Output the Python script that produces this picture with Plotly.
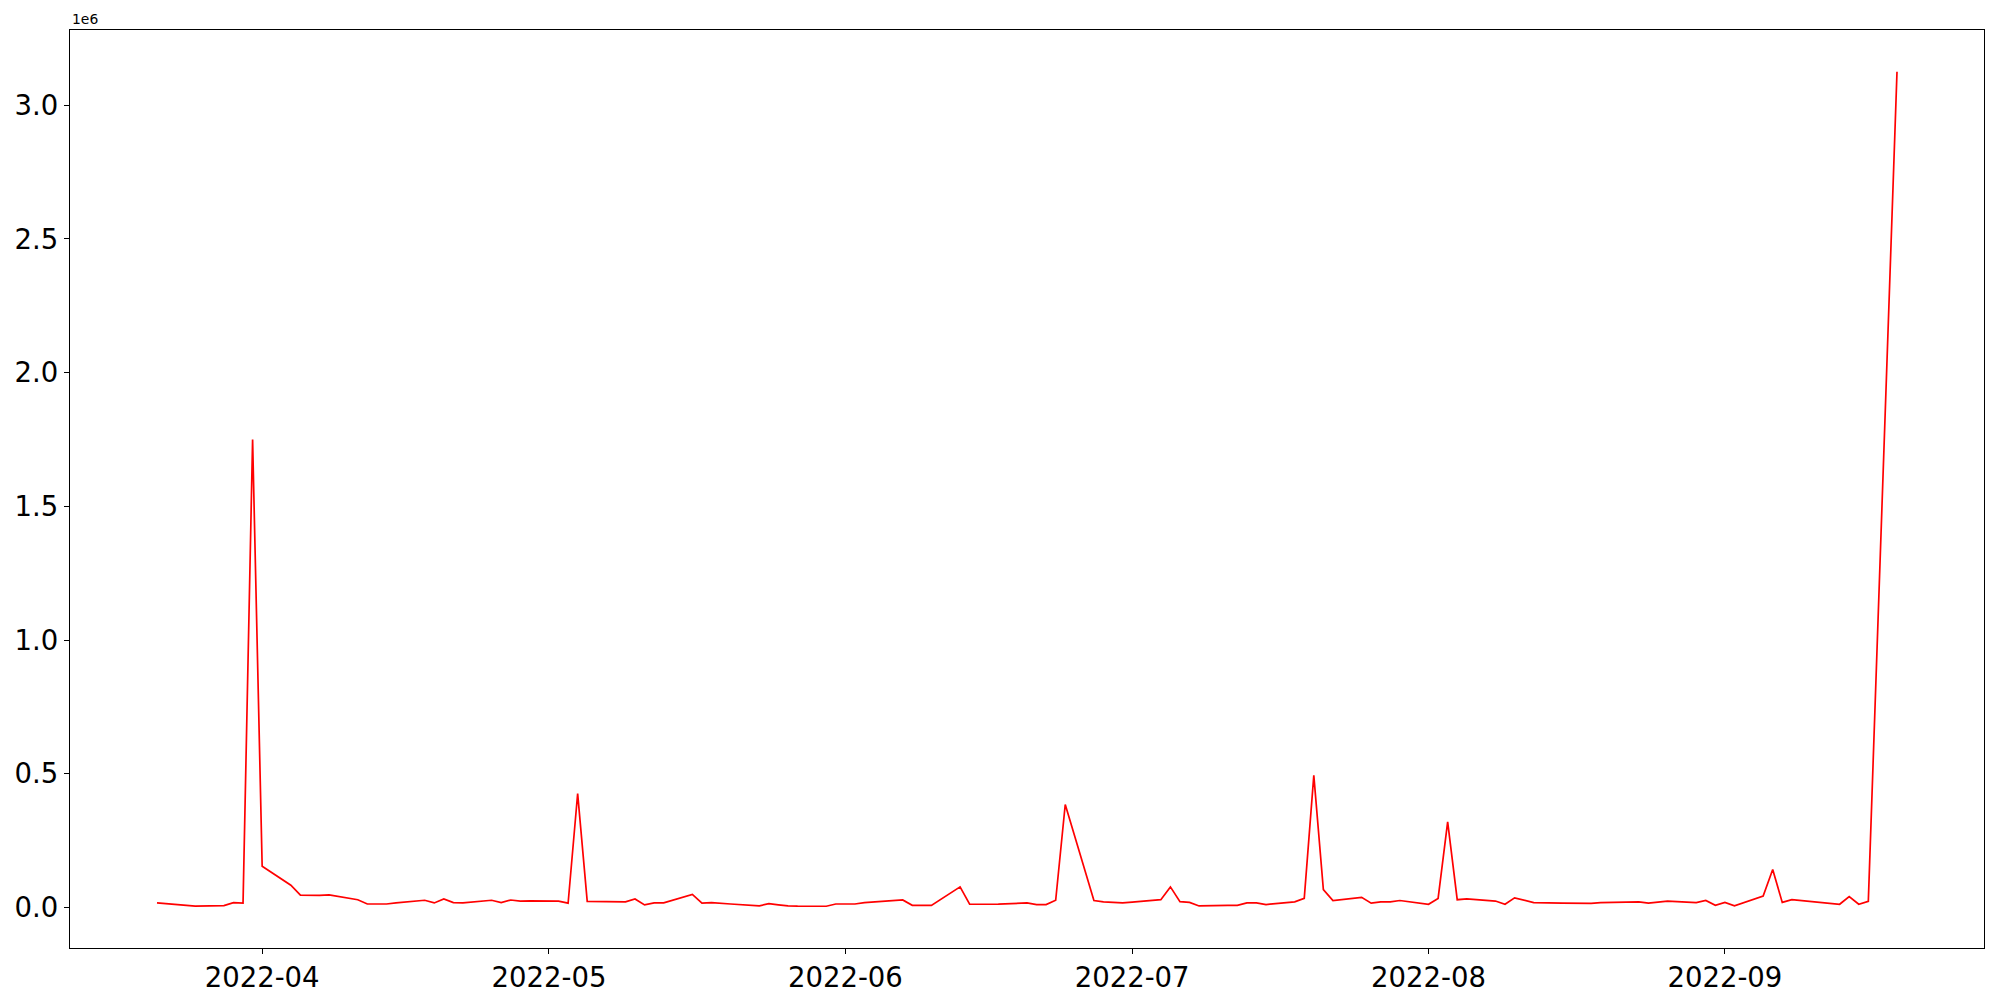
"""
Line chart of daily values (weekdays, Mar-Sep 2022), matplotlib look-alike
"""

import plotly.graph_objects as go
import pandas as pd


# weekdays shown on the chart, per month (2022)
mar_days = [21, 22, 23, 24, 25, 28, 29, 30, 31]
apr_days = [1, 4, 5, 6, 7, 8, 11, 12, 13, 14, 15, 18, 19, 20, 21, 22, 25, 26, 27, 28, 29]
may_days = [2, 3, 4, 5, 6, 9, 10, 11, 12, 13, 16, 17, 18, 19, 20, 23, 24, 25, 26, 27, 30, 31]
jun_days = [1, 2, 3, 6, 7, 8, 9, 10, 13, 14, 15, 16, 17, 20, 21, 22, 23, 24, 27, 28, 29, 30]
jul_days = [1, 4, 5, 6, 7, 8, 11, 12, 13, 14, 15, 18, 19, 20, 21, 22, 25, 26, 27, 28, 29]
aug_days = [1, 2, 3, 4, 5, 8, 9, 10, 11, 12, 15, 16, 17, 18, 19, 22, 23, 24, 25, 26, 29, 30, 31]
sep_days = [1, 2, 5, 6, 7, 8, 9, 12, 13, 14, 15, 16, 19]

# values in units of 1e6
mar_vals = [0.017, 0.014, 0.011, 0.007, 0.005, 0.007, 0.018, 0.016, 1.750]
apr_vals = [0.154, 0.083, 0.046, 0.045, 0.045, 0.047, 0.029, 0.013, 0.013, 0.013, 0.017,
            0.027, 0.017, 0.032, 0.018, 0.017, 0.027, 0.018, 0.028, 0.024, 0.025]
may_vals = [0.024, 0.016, 0.426, 0.023, 0.022, 0.021, 0.032, 0.0095, 0.017, 0.017, 0.049,
            0.016, 0.018, 0.015, 0.013, 0.006, 0.0145, 0.010, 0.006, 0.005, 0.0045, 0.013]
jun_vals = [0.013, 0.013, 0.018, 0.026, 0.028, 0.008, 0.008, 0.008, 0.077, 0.012, 0.012,
            0.012, 0.0126, 0.017, 0.011, 0.011, 0.027, 0.385, 0.026, 0.021, 0.019, 0.017]
jul_vals = [0.020, 0.029, 0.077, 0.022, 0.019, 0.0057, 0.0076, 0.008, 0.017, 0.017, 0.011,
            0.021, 0.034, 0.494, 0.067, 0.026, 0.038, 0.016, 0.021, 0.021, 0.026]
aug_vals = [0.012, 0.034, 0.320, 0.029, 0.032, 0.024, 0.012, 0.036, 0.026, 0.018, 0.016,
            0.016, 0.0145, 0.0157, 0.018, 0.019, 0.021, 0.016, 0.020, 0.024, 0.018, 0.026, 0.008]
sep_vals = [0.019, 0.006, 0.043, 0.142, 0.019, 0.029, 0.026, 0.0145, 0.012, 0.041, 0.012,
            0.023, 3.125]

y_ticks = [0.0, 0.5, 1.0, 1.5, 2.0, 2.5, 3.0]


def build_series():
    """month lists -> one date/value series"""
    months = [(3, mar_days, mar_vals), (4, apr_days, apr_vals), (5, may_days, may_vals),
              (6, jun_days, jun_vals), (7, jul_days, jul_vals), (8, aug_days, aug_vals),
              (9, sep_days, sep_vals)]
    dates, values = [], []
    for month, days, vals in months:
        dates += [pd.Timestamp(2022, month, d) for d in days]
        values += vals
    return dates, values


def create_line_chart(dates, values):
    """red line on a framed white axes"""
    fig = go.Figure()
    fig.add_trace(go.Scatter(
        x=dates,
        y=values,
        mode='lines',
        line=dict(color='#ff0000', width=1.7),
        showlegend=False
    ))

    # 5% padding like matplotlib autoscale
    x_pad = (max(dates) - min(dates)) * 0.05
    y_pad = (max(values) - min(values)) * 0.05

    axis_style = dict(
        showline=True, mirror=True, linecolor='black', linewidth=1.3,
        ticks='outside', ticklen=5, tickwidth=1.3, tickcolor='black',
        showgrid=False, zeroline=False, automargin=False,
        tickfont=dict(family='DejaVu Sans', size=27.5, color='black')
    )

    fig.update_xaxes(
        range=[min(dates) - x_pad, max(dates) + x_pad],
        tickformat='%Y-%m', dtick='M1', tick0='2022-04-01',
        **axis_style
    )
    fig.update_yaxes(
        range=[min(values) - y_pad, max(values) + y_pad],
        tickvals=y_ticks, tickformat='.1f',
        **axis_style
    )

    # offset text of the y axis
    fig.add_annotation(
        x=0, y=1, xref='paper', yref='paper',
        xanchor='left', yanchor='bottom', yshift=1,
        text='1e6', showarrow=False,
        font=dict(family='DejaVu Sans', size=13.9, color='black')
    )

    # page body adds 8px, so the figure is 1984x984
    fig.update_layout(
        width=1984,
        height=984,
        margin=dict(l=62, r=8, t=22, b=44),
        plot_bgcolor='white',
        paper_bgcolor='white'
    )
    return fig


dates, values = build_series()
fig = create_line_chart(dates, values)
fig.write_html("out.html")
